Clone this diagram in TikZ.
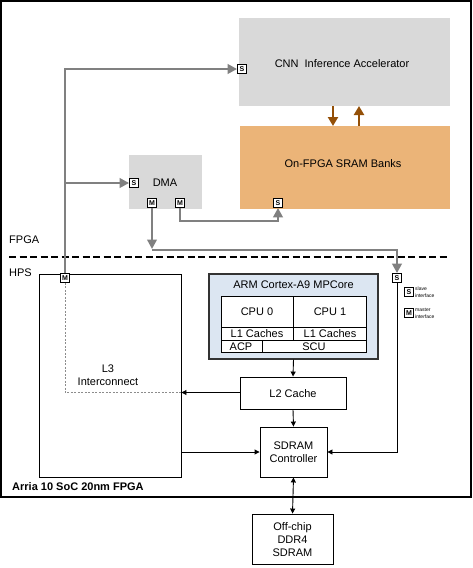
\documentclass[tikz,border=0pt]{standalone}
\usepackage{fontspec}
\setmainfont{Liberation Sans}
\usetikzlibrary{arrows.meta}
\definecolor{boxgray}{HTML}{D9D9D9}
\definecolor{sramor}{RGB}{235,180,120}
\definecolor{armblue}{HTML}{DCE6F2}
\definecolor{linegray}{HTML}{808080}
\definecolor{brownarr}{HTML}{945008}
\begin{document}
\begin{tikzpicture}[x=1pt,y=-1pt,
  lbl/.style={font=\fontsize{11}{13}\selectfont, align=center, inner sep=0pt},
  blk/.style={draw=black, line width=0.9pt, fill=white, inner sep=0pt},
  port/.style={draw=black, line width=0.8pt, fill=white, minimum size=9pt, inner sep=0pt, font=\fontsize{7}{7}\selectfont\bfseries},
  gline/.style={draw=linegray, line width=2.5pt, -{Triangle[length=9.5pt,width=9.5pt]}},
  bline/.style={draw=black, line width=0.9pt, -{Triangle[length=5pt,width=5pt]}},
  brline/.style={draw=brownarr, line width=2.2pt, -{Triangle[length=9pt,width=10pt]}},
  small/.style={font=\fontsize{5}{7}\selectfont, align=left, inner sep=0pt, anchor=west}
]
\useasboundingbox[fill=white] (0,0) rectangle (473,568);
% outer frame
\draw[line width=1.1pt] (1,1) rectangle (471,497);
\node[anchor=west, font=\fontsize{11}{13}\selectfont\bfseries, inner sep=0pt] (arria) at (12,487) {Arria 10 SoC 20nm FPGA};
% FPGA/HPS divider
\draw[line width=1.3pt, dash pattern=on 7pt off 3.5pt] (9,257) -- (450,257);
\node[anchor=west, lbl] (fpgal) at (9,240) {FPGA};
\node[anchor=west, lbl] (hpsl) at (9,273) {HPS};
% FPGA blocks
\fill[boxgray] (239,18) rectangle (450,106);
\node[lbl] (cnn) at (342,64) {CNN\ \ Inference Accelerator};
\coordinate (cnnB1) at (333,106);
\coordinate (cnnB2) at (359,106);
\fill[sramor] (240,126) rectangle (450,209);
\node[lbl] (sram) at (343,164) {On-FPGA SRAM Banks};
\coordinate (sramT1) at (333,126);
\coordinate (sramT2) at (359,126);
\draw[brline] (cnnB1) -- (sramT1);
\draw[brline] (sramT2) -- (cnnB2);
\fill[boxgray] (129,155) rectangle (202,209);
\node[lbl] (dma) at (165,183) {DMA};
% ports
\node[port] (cnnS) at (242,69) {S};
\node[port] (dmaS) at (134,183) {S};
\node[port] (dmaM1) at (152,203) {M};
\node[port] (dmaM2) at (180,203) {M};
\node[port] (sramS) at (278,203) {S};
% HPS blocks
\node[blk, minimum width=142pt, minimum height=203pt] (l3) at (110,375.5) {};
\node[lbl] (l3t) at (108,375) {L3\\Interconnect};
\node[port] (l3M) at (65,278) {M};
\node[port] (hpsS) at (397,278) {S};
% ARM
\node[draw=black!80, line width=1.2pt, fill=armblue, minimum width=169pt, minimum height=85pt, inner sep=0pt] (arm) at (293.5,316.5) {};
\node[lbl] (armt) at (293.5,285) {ARM Cortex-A9 MPCore};
\draw[line width=0.9pt, fill=white] (221,296) rectangle (366,352);
\draw[line width=0.9pt] (221,327) -- (366,327);
\draw[line width=0.9pt] (221,340) -- (366,340);
\draw[line width=0.9pt] (293,296) -- (293,340);
\draw[line width=0.9pt] (262,340) -- (262,352);
\node[lbl] (cpu0) at (257,312) {CPU 0};
\node[lbl] (cpu1) at (330,312) {CPU 1};
\node[lbl] (l1a) at (257,334) {L1 Caches};
\node[lbl] (l1b) at (330,334) {L1 Caches};
\node[lbl] (acp) at (241,346.5) {ACP};
\node[lbl] (scu) at (314,346.5) {SCU};
% L2
\node[blk, minimum width=106pt, minimum height=32pt] (l2) at (293,393) {};
\node[lbl] (l2t) at (293,394) {L2 Cache};
% SDRAM controller
\node[blk, minimum width=67pt, minimum height=50pt] (sdc) at (293.5,452) {};
\node[lbl] (sdct) at (293.5,452) {SDRAM\\Controller};
% DDR4
\node[blk, minimum width=81pt, minimum height=50pt] (ddr) at (292.5,539) {};
\node[lbl] (ddrt) at (292.5,539.5) {Off-chip\\DDR4\\SDRAM};
% legend
\node[port] (legS) at (409,292) {S};
\node[small] (legSt) at (415,292) {slave\\interface};
\node[port] (legM) at (409,313) {M};
\node[small] (legMt) at (415,313) {master\\interface};
% gray connectors
\coordinate (j2) at (65,183);
\coordinate (c1) at (180,221);
\coordinate (c2) at (152,249);
\coordinate (c3) at (152,250);
\draw[gline] (l3M.north) |- (cnnS.west);
\draw[gline] (j2) -- (dmaS.west);
\draw[gline] (dmaM2.south) |- (c1) -| (sramS.south);
\draw[gline] (dmaM1.south) -- (c2);
\draw[gline] (c3) -| (hpsS.north);
% dashed inside L3
\coordinate (d1) at (65,392.5);
\draw[draw=black!45, line width=0.8pt, dash pattern=on 2pt off 1.5pt] (l3M.south) |- (d1 -| l3.east);
% black connectors
\draw[bline] (arm.south) -- (l2.north);
\draw[bline] (l2.west |- d1) -- (l3.east |- d1);
\draw[bline] (l2.south) -- (sdc.north);
\draw[bline] (l3.east |- sdc.center) -- (sdc.west);
\draw[bline] (hpsS.south) |- (sdc.east);
\draw[draw=black, line width=0.9pt, {Triangle[length=5pt,width=5pt]}-{Triangle[length=5pt,width=5pt]}] (sdc.south) -- (ddr.north);
\end{tikzpicture}
\end{document}
